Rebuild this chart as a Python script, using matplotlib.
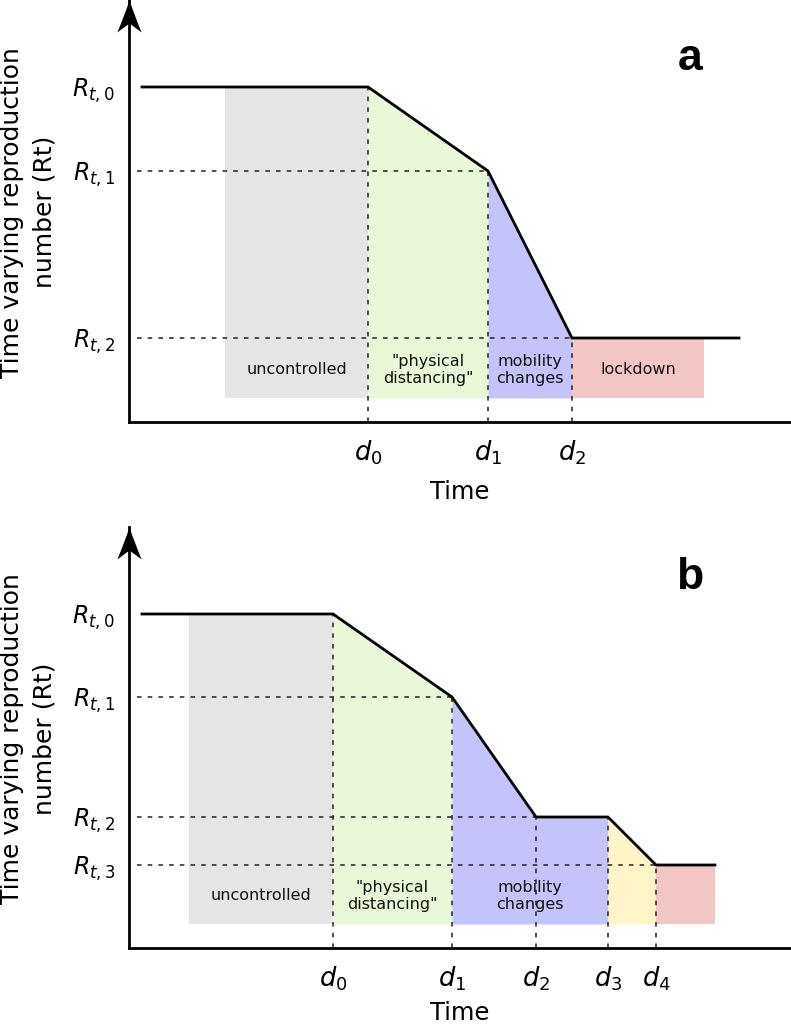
import matplotlib
matplotlib.use("Agg")
import matplotlib.pyplot as plt
import numpy as np
from matplotlib.path import Path
from matplotlib.markers import MarkerStyle

# ---------------- data (time units / R units) ----------------
# Panel a
a_time_line = [1.3, 23.9, 35.9, 44.3, 61.0]          # breakpoints of Rt curve
a_R_line = [33.5, 33.5, 25.1, 8.4, 8.4]
a_d = [23.9, 35.9, 44.3]                              # d0, d1, d2
a_d_labels = [r"$\mathit{d_0}$", r"$\mathit{d_1}$", r"$\mathit{d_2}$"]
a_R = [33.5, 25.1, 8.4]                               # Rt,0 .. Rt,2
a_R_labels = [r"$\mathit{R_{t,0}}$", r"$\mathit{R_{t,1}}$", r"$\mathit{R_{t,2}}$"]
a_phase_start = [9.6, 23.9, 35.9, 44.3]
a_phase_end = [23.9, 35.9, 44.3, 57.5]
a_phase_names = ["uncontrolled", "\"physical\ndistancing\"", "mobility\nchanges", "lockdown"]
a_phase_colors = ["#e5e5e5", "#e9f8d9", "#c4c4fa", "#f3c6c6"]

# Panel b
b_time_line = [1.3, 20.4, 32.3, 40.7, 47.9, 52.7, 58.6]
b_R_line = [33.4, 33.4, 25.1, 13.1, 13.1, 8.3, 8.3]
b_d = [20.4, 32.3, 40.7, 47.9, 52.7]
b_d_labels = [r"$\mathit{d_0}$", r"$\mathit{d_1}$", r"$\mathit{d_2}$",
              r"$\mathit{d_3}$", r"$\mathit{d_4}$"]
b_R = [33.4, 25.1, 13.1, 8.3]
b_R_labels = [r"$\mathit{R_{t,0}}$", r"$\mathit{R_{t,1}}$",
              r"$\mathit{R_{t,2}}$", r"$\mathit{R_{t,3}}$"]
b_phase_start = [6.0, 20.4, 32.3, 47.9, 52.7]
b_phase_end = [20.4, 32.3, 47.9, 52.7, 58.6]
b_phase_names = ["uncontrolled", "\"physical\ndistancing\"", "mobility\nchanges", "", ""]
b_phase_colors = ["#e5e5e5", "#e9f8d9", "#c4c4fa", "#fff5c8", "#f3c6c6"]

shade_bottom = 2.4
dash_start = 0.8
x_max_a, y_max_a = 66.2, 42.2
x_max_b, y_max_b = 66.2, 42.1

W, H = 791, 1026


def arrow_path(direction):
    # concave-backed arrowhead, tip at origin
    pts = [(0, 0), (-0.17, -0.5), (-0.38, -1.0), (0, -0.72), (0.38, -1.0),
           (0.17, -0.5), (0, 0), (0, 0)]
    codes = [Path.MOVETO, Path.CURVE3, Path.CURVE3, Path.LINETO, Path.LINETO,
             Path.CURVE3, Path.CURVE3, Path.CLOSEPOLY]
    if direction == "right":
        pts = [(-y, x) for (x, y) in pts]
    return Path(pts, codes)


def panel(fig, bottom_px, top_px, xmax, ymax, tline, rline, d, dlabels, R, Rlabels,
          pstart, pend, pnames, pcolors, letter, letter_y, time_y):
    left_px = 129
    ax = fig.add_axes([left_px / W, (H - bottom_px) / H, (W - left_px) / W,
                       (bottom_px - top_px) / H])
    ax.set_xlim(0, xmax)
    ax.set_ylim(0, ymax)
    ax.patch.set_alpha(0)
    for s in ["top", "right"]:
        ax.spines[s].set_visible(False)
    for s in ["left", "bottom"]:
        ax.spines[s].set_linewidth(2.0)

    tl = np.array(tline)
    rl = np.array(rline)
    for s, e, name, c in zip(pstart, pend, pnames, pcolors):
        xs = [s] + [t for t in tl if s < t < e] + [e]
        ys = np.interp(xs, tl, rl)
        ax.fill_between(xs, shade_bottom, ys, color=c, lw=0, zorder=1)
        if name:
            ax.text((s + e) / 2, 5.2, name, ha="center", va="center",
                    fontsize=11.5, linespacing=1.22, color="#111111", zorder=4)

    # dashed guides
    dkw = dict(color="#222222", lw=1.1, linestyle=(0, (3.0, 4.0)), zorder=3)
    for r in R[1:]:
        idx = [i for i in range(len(tl)) if rl[i] == r]
        ax.plot([dash_start, tl[idx[0]]], [r, r], **dkw)
    for dx in d:
        ax.plot([dx, dx], [0, np.interp(dx, tl, rl)], **dkw)

    # Rt curve
    ax.plot(tl, rl, color="black", lw=2.0, zorder=5, solid_joinstyle="miter")

    # ticks
    ax.set_xticks(d)
    ax.set_xticklabels(dlabels, fontsize=18.5)
    ax.set_yticks(R)
    ax.set_yticklabels(Rlabels, fontsize=17)
    ax.tick_params(axis="x", length=0, pad=12)
    ax.tick_params(axis="y", length=0, pad=10)

    # axis arrowheads
    up = MarkerStyle(arrow_path("up"))
    rt = MarkerStyle(arrow_path("right"))
    ax.plot([0], [1], transform=ax.transAxes, marker=up, markersize=46,
            color="black", mew=0, clip_on=False, zorder=6)
    ax.plot([1], [0], transform=ax.transAxes, marker=rt, markersize=48,
            color="black", mew=0, clip_on=False, zorder=6)

    ax.text(0.5, time_y, "Time", transform=ax.transAxes, ha="center",
            va="baseline", fontsize=17.5)
    ax.text(-0.1526, 0.497, "Time varying reproduction\nnumber (Rt)",
            transform=ax.transAxes, ha="center", va="center", rotation=90,
            fontsize=18, linespacing=1.45)
    ax.text(0.847, letter_y, letter, transform=ax.transAxes, ha="center",
            va="baseline", fontsize=32, fontweight="bold", family="Liberation Sans")
    return ax


fig = plt.figure(figsize=(W / 100, H / 100), dpi=100)
panel(fig, 422, 0, x_max_a, y_max_a, a_time_line, a_R_line, a_d, a_d_labels, a_R,
      a_R_labels, a_phase_start, a_phase_end, a_phase_names, a_phase_colors, "a", 0.834,
      -77 / 422)
panel(fig, 948, 527, x_max_b, y_max_b, b_time_line, b_R_line, b_d, b_d_labels, b_R,
      b_R_labels, b_phase_start, b_phase_end, b_phase_names, b_phase_colors, "b", 0.853,
      -72 / 421)
fig.savefig("out.png", dpi=100)
